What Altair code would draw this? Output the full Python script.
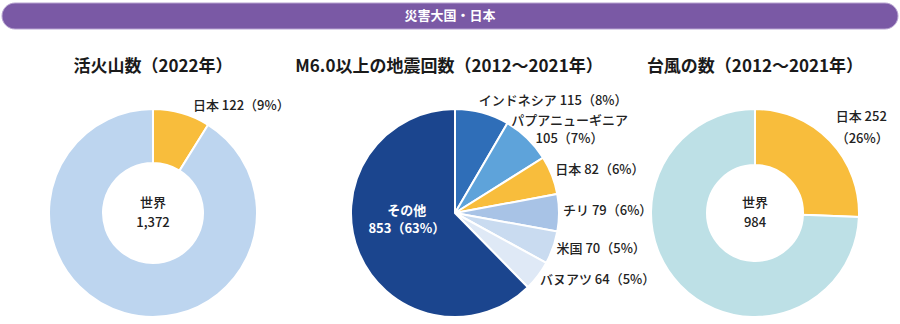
import altair as alt
import pandas as pd

FONT = "Noto Sans CJK JP"

# ---------------- data ----------------
banner_text = "災害大国・日本"

volc_title = "活火山数（2022年）"
volc_world = 1372
volc_japan = 122
volc_world_label = "1,372"
volc_japan_pct = 9

quake_title = "M6.0以上の地震回数（2012～2021年）"
quake_names = ["インドネシア", "パプアニューギニア", "日本", "チリ", "米国", "バヌアツ", "その他"]
quake_values = [115, 105, 82, 79, 70, 64, 853]
quake_pcts = [8, 7, 6, 6, 5, 5, 63]

typh_title = "台風の数（2012～2021年）"
typh_world = 984
typh_japan = 252
typh_japan_pct = 26

# ---------------- styles ----------------
YELLOW = "#F8BD3C"
volc_colors = [YELLOW, "#BDD5EF"]
typh_colors = [YELLOW, "#BDE0E6"]
quake_colors = ["#2F6EB8", "#5EA3DA", YELLOW, "#A8C3E6", "#C9DBF0", "#DFE9F6", "#1B458E"]
PURPLE = "#7A59A5"

# ---------------- tables ----------------
volc_df = pd.DataFrame({
    "idx": [0, 1],
    "name": ["日本", "世界"],
    "value": [volc_japan, volc_world - volc_japan],
    "lab": [f"日本 {volc_japan}（{volc_japan_pct}%）", ""],
})
typh_df = pd.DataFrame({
    "idx": [0, 1],
    "name": ["日本", "世界"],
    "value": [typh_japan, typh_world - typh_japan],
    "lab": [f"日本 {typh_japan}\n（{typh_japan_pct}%）", ""],
})
quake_df = pd.DataFrame({
    "idx": list(range(len(quake_names))),
    "name": quake_names,
    "value": quake_values,
    "pct": quake_pcts,
})
quake_df["full"] = [f"{n} {v}（{p}%）" for n, v, p in zip(quake_names, quake_values, quake_pcts)]
quake_df["lab_left"] = [
    f if n not in ("パプアニューギニア", "その他") else "" for n, f in zip(quake_names, quake_df["full"])
]
quake_df["lab_center"] = [
    f"{n}\n{v}（{p}%）" if n == "パプアニューギニア" else ""
    for n, v, p in zip(quake_names, quake_values, quake_pcts)
]
quake_df["lab_inner"] = [
    f"{n}\n{v}（{p}%）" if n == "その他" else ""
    for n, v, p in zip(quake_names, quake_values, quake_pcts)
]


def pie(df, names, colors, cx, cy, inner, outer):
    base = alt.Chart(df).encode(
        theta=alt.Theta("value:Q", stack=True),
        order=alt.Order("idx:Q"),
        x=alt.value(cx),
        y=alt.value(cy),
    )
    arc = base.mark_arc(innerRadius=inner, outerRadius=outer, stroke="white", strokeWidth=2).encode(
        color=alt.Color("name:N", scale=alt.Scale(domain=names, range=colors), legend=None)
    )
    return base, arc


def txt(lh=20):
    return dict(font=FONT, fontSize=13, fontWeight=500, color="#222222", lineBreak="\n",
                lineHeight=lh, baseline="middle")


# volcano donut
vb, varc = pie(volc_df, ["日本", "世界"], volc_colors, 153, 213, 50, 104)
vlab = vb.mark_text(radius=112, align="left", dx=9, dy=1, **txt()).encode(text="lab:N")
volc = alt.layer(varc, vlab)

# quake pie
qb, qarc = pie(quake_df, quake_names, quake_colors, 455, 213, 0, 104)
qlab1 = qb.mark_text(radius=114, align="left", dx=-6, dy=-2, **txt()).encode(text="lab_left:N")
qlab2 = qb.mark_text(radius=110, align="center", dx=38, dy=-13, **txt(18)).encode(text="lab_center:N")
qlab3 = qb.mark_text(radius=52, align="center", dy=-22, font=FONT, fontSize=13, fontWeight="bold",
                     color="white", lineBreak="\n", lineHeight=18, baseline="middle").encode(text="lab_inner:N")
quake = alt.layer(qarc, qlab1, qlab2, qlab3)

# typhoon donut
tb, tarc = pie(typh_df, ["日本", "世界"], typh_colors, 755, 213, 48, 104)
tlab = tb.mark_text(radius=112, align="left", dx=0, dy=-18, **txt(22)).encode(text="lab:N")
typh = alt.layer(tarc, tlab)

# center labels of donuts
centers_df = pd.DataFrame({
    "t": [f"世界\n{volc_world_label}", f"世界\n{typh_world}"],
    "k": ["v", "t"],
})
vcenter = alt.Chart(centers_df).transform_filter("datum.k == 'v'").mark_text(**txt(), align="center").encode(
    text="t:N", x=alt.value(153), y=alt.value(203))
tcenter = alt.Chart(centers_df).transform_filter("datum.k == 't'").mark_text(**txt(), align="center").encode(
    text="t:N", x=alt.value(755), y=alt.value(203))

# titles
titles_df = pd.DataFrame({"t": [volc_title, quake_title, typh_title], "k": [0, 1, 2]})
title_layers = []
for k, cx in zip([0, 1, 2], [153, 449, 755]):
    title_layers.append(
        alt.Chart(titles_df).transform_filter(f"datum.k == {k}").mark_text(
            font=FONT, fontSize=17, fontWeight="bold", color="#1a1a1a", align="center", baseline="middle"
        ).encode(text="t:N", x=alt.value(cx), y=alt.value(67))
    )

# banner
banner_df = pd.DataFrame({"t": [banner_text]})
banner_rect = alt.Chart(banner_df).mark_rect(
    color=PURPLE, cornerRadius=13, stroke="#B7A3D1", strokeWidth=1
).encode(x=alt.value(2), x2=alt.value(898), y=alt.value(3), y2=alt.value(29))
banner_txt = alt.Chart(banner_df).mark_text(
    font=FONT, fontSize=13, fontWeight="bold", color="white", align="center", baseline="middle"
).encode(text="t:N", x=alt.value(450), y=alt.value(16))

chart = alt.layer(
    banner_rect, banner_txt, *title_layers, volc, vcenter, quake, typh, tcenter
).resolve_scale(theta="independent", color="independent").properties(
    width=900, height=324, autosize="none", padding=0, background="white"
).configure_view(stroke=None)

chart.save("out.html", embed_options={"renderer": "svg", "actions": False})
